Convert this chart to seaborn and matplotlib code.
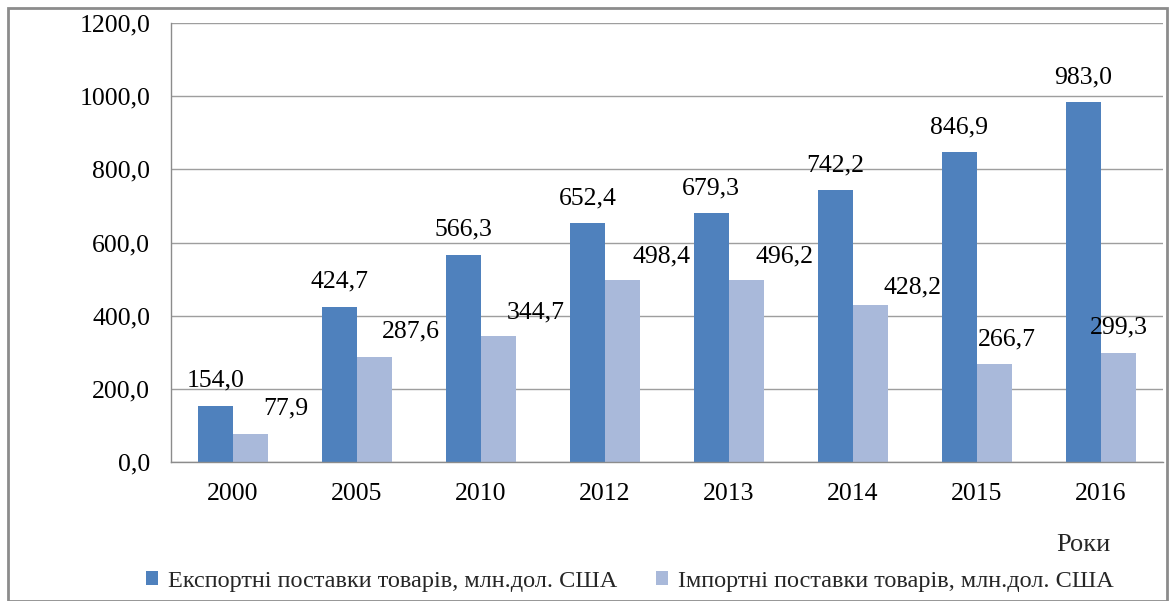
import matplotlib
matplotlib.use("Agg")
import matplotlib.pyplot as plt
import seaborn as sns
import pandas as pd
from matplotlib.patches import Rectangle, Patch

years = ["2000", "2005", "2010", "2012", "2013", "2014", "2015", "2016"]
export_vals = [154.0, 424.7, 566.3, 652.4, 679.3, 742.2, 846.9, 983.0]
import_vals = [77.9, 287.6, 344.7, 498.4, 496.2, 428.2, 266.7, 299.3]
series_names = ["Експортні поставки товарів, млн.дол. США",
                "Імпортні поставки товарів, млн.дол. США"]
colors = ["#4F81BD", "#A9B9DA"]
yticks = [0, 200, 400, 600, 800, 1000, 1200]

# label offsets in points (dx, dy from bar top-center), per series
exp_label_dy = [18, 18, 18, 18, 18, 18, 18, 18]
imp_label_dx = [25, 26, 27, 28, 27, 30, 9, 0]
imp_label_dy = [18, 18, 17, 17, 17, 13, 18, 18]

sns.set_theme(style="white")
plt.rcParams['font.family'] = ['Liberation Serif', 'DejaVu Serif']

df = pd.DataFrame({
    "year": years * 2,
    "value": export_vals + import_vals,
    "series": [series_names[0]] * len(years) + [series_names[1]] * len(years),
})

fig = plt.figure(figsize=(11.70, 6.01), dpi=100)
ax = fig.add_axes([171/1170, 1 - 462/601, (1163 - 171)/1170, (462 - 23)/601])

sns.barplot(data=df, x="year", y="value", hue="series", palette=colors,
            width=0.57, dodge=True, ax=ax, legend=False, saturation=1,
            errorbar=None, linewidth=0)

ax.set_ylim(0, 1200)
ax.set_xlim(-0.5, len(years) - 0.5)
ax.set_yticks(yticks)
ax.set_yticklabels([f"{v:.1f}".replace(".", ",") for v in yticks], fontsize=18.5)
ax.set_xticks(range(len(years)))
ax.set_xticklabels(years, fontsize=18.5)
ax.set_xticks([i - 0.5 for i in range(len(years) + 1)], minor=True)
ax.tick_params(axis="x", which="major", length=0, pad=15, colors="black")
ax.tick_params(axis="x", which="minor", length=6, width=1, color="#8C8C8C", direction="out")
ax.tick_params(axis="y", length=6, width=1, direction="out", pad=9, colors="black")
ax.tick_params(axis="y", color="#8C8C8C")
ax.set_xlabel("")
ax.set_ylabel("")
ax.yaxis.grid(True, color="#9E9E9E", linewidth=1)
ax.set_axisbelow(True)
for s in ["top", "right"]:
    ax.spines[s].set_visible(False)
for s in ["left", "bottom"]:
    ax.spines[s].set_color("#8C8C8C")
    ax.spines[s].set_linewidth(1)

# data labels
containers = ax.containers
for i, bar in enumerate(containers[0]):
    x = bar.get_x() + bar.get_width() / 2
    ax.annotate(f"{export_vals[i]:.1f}".replace(".", ","), (x, bar.get_height()),
                xytext=(0, exp_label_dy[i]), textcoords="offset points",
                ha="center", va="center", fontsize=18.5, color="black")
for i, bar in enumerate(containers[1]):
    x = bar.get_x() + bar.get_width() / 2
    ax.annotate(f"{import_vals[i]:.1f}".replace(".", ","), (x, bar.get_height()),
                xytext=(imp_label_dx[i], imp_label_dy[i]), textcoords="offset points",
                ha="center", va="center", fontsize=18.5, color="black")

fig.text(1083/1170, 1 - 545/601, "Роки", ha="center", va="center", fontsize=19)

handles = [Patch(facecolor=c, edgecolor="none") for c in colors]
fig.legend(handles, series_names, loc="center", bbox_to_anchor=(630/1170, 1 - 581/601),
           ncol=2, frameon=False, fontsize=17.5, handlelength=0.5, handleheight=0.5,
           handletextpad=0.4, columnspacing=1.6)

fig.patches.append(Rectangle((8/1170, 0.0), (1167 - 8)/1170, 1 - 8/601,
                             transform=fig.transFigure, fill=False,
                             edgecolor="#8C8C8C", linewidth=2))

fig.savefig("out.png", dpi=100)
